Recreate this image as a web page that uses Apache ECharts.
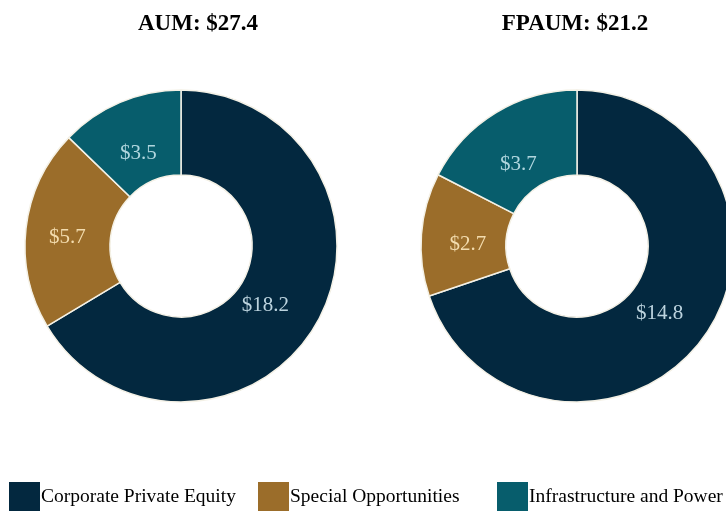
<!DOCTYPE html>
<html><head><meta charset="utf-8">
<script src="https://cdn.jsdelivr.net/npm/echarts@6/dist/echarts.min.js"></script>
<style>html,body{margin:0;padding:0;background:#fff}#c{width:726px;height:513px}</style>
</head><body><div id="c"></div>
<script>
const categories = ['Corporate Private Equity', 'Special Opportunities', 'Infrastructure and Power'];
const aumValues = [18.2, 5.7, 3.5];
const fpaumValues = [14.8, 2.7, 3.7];
const titles = ['AUM: $27.4', 'FPAUM: $21.2'];
const colors = ['#03283f', '#9b6d2a', '#075d6c'];
const labelColors = ['#bcd3de', '#f3dcae', '#b0d6de'];

// label nudges (style only)
const aumOffsets = [[-17, 2], [2, 5], [3, 15]];
const fpaumOffsets = [[-12, 0], [7, 7], [2, 18]];

function mk(vals, offs) {
  return vals.map((v, i) => ({
    name: categories[i], value: v,
    itemStyle: { color: colors[i] },
    label: { color: labelColors[i], offset: offs[i] }
  }));
}
const serif = '"Liberation Serif", "Times New Roman", serif';
const chart = echarts.init(document.getElementById('c'));
const pieBase = {
  type: 'pie', radius: [71, 156], startAngle: 90, clockwise: true,
  avoidLabelOverlap: false, animation: false,
  itemStyle: { borderColor: '#f4f1e6', borderWidth: 1.5 },
  label: { show: true, position: 'inside', formatter: p => '$' + p.value.toFixed(1), fontFamily: serif, fontSize: 21 },
  labelLine: { show: false }, emphasis: { disabled: true }
};
const legendBase = {
  icon: 'rect', itemWidth: 31, itemHeight: 29, itemGap: 0, bottom: 2, padding: 0,
  itemStyle: { borderWidth: 0 },
  textStyle: { fontFamily: serif, fontSize: 19.5, color: '#000', padding: [2, 0, 0, -4] },
  selectedMode: false
};
const titleStyle = { fontFamily: serif, fontSize: 23, fontWeight: 'bold', color: '#000' };
chart.setOption({
  animation: false,
  title: [
    { text: titles[0], left: 193, top: 8, textAlign: 'center', textStyle: titleStyle },
    { text: titles[1], left: 570, top: 8, textAlign: 'center', textStyle: titleStyle }
  ],
  legend: [
    Object.assign({}, legendBase, { left: 9, data: [categories[0]] }),
    Object.assign({}, legendBase, { left: 258, data: [categories[1]] }),
    Object.assign({}, legendBase, { left: 497, data: [categories[2]] })
  ],
  series: [
    Object.assign({}, pieBase, { center: [181, 246], data: mk(aumValues, aumOffsets) }),
    Object.assign({}, pieBase, { center: [577, 246], data: mk(fpaumValues, fpaumOffsets) })
  ]
});
</script></body></html>
